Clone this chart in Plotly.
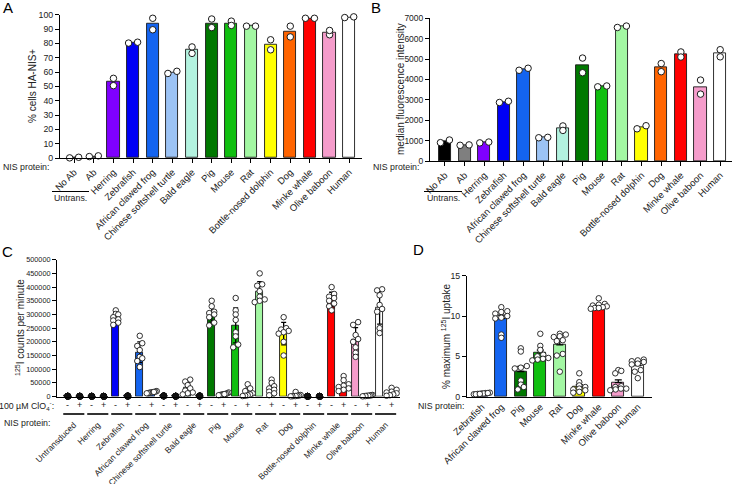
import numpy as np
import plotly.graph_objects as go

W, H = 735, 484
FONT = "Liberation Sans, Arial, Helvetica, sans-serif"
TXT = "#222222"


def px(x):
    return x / W


def py(y):
    return 1 - y / H


# ---------------- Panel A / B data ----------------
ab_labels = ["No Ab", "Ab", "Herring", "Zebrafish", "African clawed frog",
             "Chinese softshell turtle", "Bald eagle", "Pig", "Mouse", "Rat",
             "Bottle-nosed dolphin", "Dog", "Minke whale", "Olive baboon", "Human"]
ab_colors = ["#000000", "#7f7f7f", "#7f00ff", "#0000f5", "#1464f0", "#9cc3f5",
             "#b3f2df", "#007800", "#10bf10", "#a3f7a3", "#ffff00", "#ff6400",
             "#ff0000", "#f59ccb", "#ffffff"]
a_dots = [[0.1, 0.5], [1.0, 1.5], [55.6, 50.5], [80.2, 80.8], [97.5, 89.5],
          [59.0, 60.5], [77.5, 73.0], [97.0, 91.0], [95.5, 92.5], [92.0, 92.0],
          [82.5, 75.5], [92.0, 84.5], [97.5, 97.5], [86.0, 89.0], [98.0, 98.5]]
b_dots = [[900, 1030], [770, 790], [890, 930], [2870, 2930], [4450, 4550],
          [1140, 1160], [1720, 1500], [5050, 4330], [3640, 3680], [6550, 6620],
          [1580, 1730], [4780, 4380], [5350, 5100], [3970, 3280], [5460, 5110]]

# ---------------- Panel C data ----------------
c_labels = ["Untransduced", "Herring", "Zebrafish", "African clawed frog",
            "Chinese softshell turtle", "Bald eagle", "Pig", "Mouse", "Rat", "Dog",
            "Bottle-nosed dolphin", "Minke whale", "Olive baboon", "Human"]
c_colors = ["#000000", "#7f00ff", "#0000f5", "#1464f0", "#9cc3f5", "#b3f2df",
            "#007800", "#10bf10", "#a3f7a3", "#ffff00", "#ff6400", "#ff0000",
            "#f59ccb", "#ffffff"]
c_minus = [
    [1500, 1800, 1200, 1600, 1400, 1700, 1300, 1500],
    [1200, 1500, 1000, 1300, 1400, 1100, 1600, 1200],
    [315000, 302000, 300000, 290000, 282000, 278000, 270000, 262000],
    [222000, 195000, 185000, 170000, 145000, 140000, 130000, 108000],
    [2500, 3000, 2000, 2800, 2200, 1800, 2600, 2400],
    [62000, 55000, 42000, 30000, 22000, 15000, 12000, 8000],
    [350000, 330000, 310000, 305000, 300000, 290000, 270000, 260000],
    [360000, 315000, 300000, 280000, 235000, 220000, 190000, 180000],
    [450000, 410000, 405000, 385000, 365000, 355000, 350000, 345000],
    [290000, 250000, 245000, 240000, 235000, 230000, 200000, 150000],
    [1200, 1000, 1400, 1100, 1300, 900, 1000, 1200],
    [400000, 375000, 365000, 360000, 350000, 340000, 330000, 315000],
    [272000, 262000, 225000, 210000, 200000, 180000, 160000, 145000],
    [392000, 388000, 370000, 335000, 320000, 310000, 250000, 232000],
]
c_plus = [
    [1400, 1600, 1200, 1500, 1300, 1700, 1100, 1500],
    [1100, 1300, 900, 1200, 1000, 1400, 1200, 1000],
    [1500, 2500, 2000, 1000, 3000, 2000, 1500, 2500],
    [20000, 18000, 16000, 15000, 14000, 13000, 12000, 17000],
    [1500, 2000, 1200, 1800, 1600, 1400, 1700, 1300],
    [2000, 3000, 1500, 2500, 1800, 2200, 1600, 2400],
    [15000, 12000, 10000, 8000, 7000, 6000, 5000, 9000],
    [45000, 30000, 20000, 12000, 8000, 5000, 3000, 2000],
    [62000, 50000, 38000, 30000, 25000, 18000, 12000, 5000],
    [17000, 6000, 4000, 3000, 2000, 2000, 1500, 1000],
    [1000, 1200, 900, 1100, 1300, 1000, 800, 1200],
    [75000, 60000, 45000, 40000, 35000, 30000, 25000, 20000],
    [6000, 5000, 4000, 3000, 3000, 2000, 2000, 1000],
    [32000, 25000, 18000, 15000, 12000, 8000, 5000, 3000],
]
c_treat = ["-", "+"]

# ---------------- Panel D data ----------------
d_labels = ["Zebrafish", "African clawed frog", "Pig", "Mouse", "Rat", "Dog",
            "Minke whale", "Olive baboon", "Human"]
d_colors = ["#0a0ad0", "#1464f0", "#007800", "#10bf10", "#a3f7a3", "#ffff00",
            "#ff0000", "#f59ccb", "#ffffff"]
d_dots = [
    [0.5, 0.45, 0.4, 0.35, 0.3, 0.4, 0.45, 0.3, 0.35],
    [11.1, 10.6, 10.5, 10.3, 10.0, 9.8, 9.7, 7.7, 7.3],
    [6.0, 5.6, 3.8, 3.6, 3.5, 2.0, 1.5, 1.2, 0.9],
    [7.8, 6.3, 5.8, 5.2, 5.0, 4.8, 4.7, 4.6, 4.5],
    [7.8, 7.7, 7.5, 7.4, 7.0, 6.9, 5.3, 5.1, 3.1],
    [2.9, 1.8, 1.4, 1.2, 1.0, 0.9, 0.8, 0.6, 0.5],
    [12.2, 11.5, 11.4, 11.3, 11.2, 11.1, 11.0, 11.0, 10.9],
    [3.3, 3.2, 2.9, 1.3, 1.2, 1.0, 1.0, 0.9, 0.8],
    [4.6, 4.5, 4.4, 4.3, 4.1, 4.0, 3.3, 3.1, 2.3],
]

# ---------------- geometry ----------------
A_X = (60, 362); A_Y = (158, 14.7); A_XR = (-0.72, 14.65); A_YR = (0, 100)
B_X = (430, 732); B_Y = (161, 18.3); B_XR = (-0.76, 14.6); B_YR = (0, 7000)
C_X = (57, 400); C_Y = (396.6, 259.7); C_XR = (-0.9, 27.7); C_YR = (0, 500000)
D_X = (467, 652); D_Y = (396.7, 275.7); D_XR = (-0.76, 8.73); D_YR = (0, 15)


def scale(xd, yd, xr, yr):
    return (xd[1] - xd[0]) / (xr[1] - xr[0]), (yd[0] - yd[1]) / (yr[1] - yr[0])


def swarm(vals, xpx, ypx, thresh, spacing, maxhalf):
    vals = np.asarray(vals, float)
    order = np.argsort(vals, kind="stable")
    rows = []
    for i in order:
        if rows and (vals[i] - vals[rows[-1][0]]) * ypx < thresh:
            rows[-1].append(i)
        else:
            rows.append([i])
    off = np.zeros(len(vals))
    for r in rows:
        n = len(r)
        if n > 1:
            sp = min(spacing, 2 * maxhalf / (n - 1))
            for k, i in enumerate(r):
                off[i] = (k - (n - 1) / 2) * sp / xpx
    return off


fig = go.Figure()

BAR_LINE = dict(color="#1a1a1a", width=0.9)


def simple_panel(dots, colors, xa, ya, xd, yd, xr, yr):
    means = [float(np.mean(d)) for d in dots]
    xs = list(range(len(dots)))
    fig.add_trace(go.Bar(x=xs, y=means, width=0.62, marker=dict(color=colors, line=BAR_LINE),
                         xaxis=xa, yaxis=ya, showlegend=False))
    xpx, ypx = scale(xd, yd, xr, yr)
    dx, dy = [], []
    for i, d in enumerate(dots):
        off = swarm(d, xpx, ypx, 3.5, 9, 5)
        dx += list(i + off)
        dy += list(d)
    fig.add_trace(go.Scatter(x=dx, y=dy, mode="markers", xaxis=xa, yaxis=ya, showlegend=False,
                             cliponaxis=False,
                             marker=dict(size=6.5, color="white", line=dict(color="#1a1a1a", width=1))))


simple_panel(a_dots, ab_colors, "x", "y", A_X, A_Y, A_XR, A_YR)
simple_panel(b_dots, ab_colors, "x2", "y2", B_X, B_Y, B_XR, B_YR)

# ---- Panel C ----
c_x, c_mean, c_sd, c_col = [], [], [], []
for k in range(len(c_labels)):
    for j, grp in enumerate([c_minus[k], c_plus[k]]):
        c_x.append(2 * k + j)
        c_mean.append(float(np.mean(grp)))
        c_sd.append(float(np.std(grp, ddof=1)))
        c_col.append(c_colors[k])
fig.add_trace(go.Bar(x=c_x, y=c_mean, width=0.6, marker=dict(color=c_col, line=BAR_LINE),
                     error_y=dict(type="data", array=c_sd, color="black", thickness=1.3, width=2.5),
                     xaxis="x3", yaxis="y3", showlegend=False))
cxpx, cypx = scale(C_X, C_Y, C_XR, C_YR)
ox, oy, fx, fy = [], [], [], []
for k in range(len(c_labels)):
    for j, grp in enumerate([c_minus[k], c_plus[k]]):
        pos = 2 * k + j
        if max(grp) * cypx < 1.5:
            fx += [pos] * len(grp)
            fy += list(grp)
        else:
            off = swarm(grp, cxpx, cypx, 3.0, 5, 5)
            ox += list(pos + off)
            oy += list(grp)
fig.add_trace(go.Scatter(x=ox, y=oy, mode="markers", xaxis="x3", yaxis="y3", showlegend=False,
                         cliponaxis=False,
                         marker=dict(size=5.5, color="white", line=dict(color="#1a1a1a", width=0.9))))
fig.add_trace(go.Scatter(x=fx, y=fy, mode="markers", xaxis="x3", yaxis="y3", showlegend=False,
                         cliponaxis=False,
                         marker=dict(size=6, color="#111111", line=dict(color="#111111", width=1))))

# ---- Panel D ----
d_mean = [float(np.mean(d)) for d in d_dots]
d_sem = [float(np.std(d, ddof=1) / np.sqrt(len(d))) for d in d_dots]
fig.add_trace(go.Bar(x=list(range(len(d_dots))), y=d_mean, width=0.63,
                     marker=dict(color=d_colors, line=BAR_LINE),
                     error_y=dict(type="data", array=d_sem, arrayminus=[0] * len(d_sem),
                                  color="black", thickness=1.3, width=3.5),
                     xaxis="x4", yaxis="y4", showlegend=False))
dxpx, dypx = scale(D_X, D_Y, D_XR, D_YR)
ddx, ddy = [], []
for i, d in enumerate(d_dots):
    off = swarm(d, dxpx, dypx, 3.0, 6, 8)
    ddx += list(i + off)
    ddy += list(d)
fig.add_trace(go.Scatter(x=ddx, y=ddy, mode="markers", xaxis="x4", yaxis="y4", showlegend=False,
                         cliponaxis=False,
                         marker=dict(size=5.5, color="white", line=dict(color="#1a1a1a", width=0.9))))

# ---------------- axes ----------------
def yax(yd, yr, dtick, xanchor, fs):
    return dict(domain=[py(yd[0]), py(yd[1])], range=list(yr), dtick=dtick, anchor=xanchor,
                showline=True, linecolor="black", linewidth=1, ticks="outside", ticklen=4,
                tickwidth=1, tickcolor="black", showgrid=False, zeroline=False, automargin=False,
                tickfont=dict(size=fs, color=TXT, family=FONT), tickformat="d", fixedrange=True)


def xax(xd, xr, yanchor, vals, text, fs, ticks=True, standoff=None):
    d = dict(domain=[px(xd[0]), px(xd[1])], range=list(xr), anchor=yanchor,
             showline=True, linecolor="black", linewidth=1, automargin=False,
             ticks="outside" if ticks else "", ticklen=4, tickwidth=1, tickcolor="black",
             tickmode="array", tickvals=vals, ticktext=text, tickangle=-45,
             showgrid=False, zeroline=False, fixedrange=True,
             tickfont=dict(size=fs, color=TXT, family=FONT))
    if standoff is not None:
        d["ticklabelstandoff"] = standoff
    return d


fig.update_layout(
    template="none",
    width=W, height=H, autosize=False,
    margin=dict(l=0, r=0, t=0, b=0, autoexpand=False),
    paper_bgcolor="white", plot_bgcolor="rgba(0,0,0,0)",
    font=dict(family=FONT, color=TXT),
    bargap=0,
    xaxis=xax(A_X, A_XR, "y", list(range(15)), ab_labels, 9.5),
    yaxis=yax(A_Y, A_YR, 10, "x", 8.8),
    xaxis2=xax(B_X, B_XR, "y2", list(range(15)), ab_labels, 9.5),
    yaxis2=yax(B_Y, B_YR, 1000, "x2", 8.5),
    xaxis3=xax(C_X, C_XR, "y3", [2 * k + 0.5 for k in range(len(c_labels))], c_labels, 8.5,
               ticks=False, standoff=19),
    yaxis3=yax(C_Y, C_YR, 50000, "x3", 7.3),
    xaxis4=xax(D_X, D_XR, "y4", list(range(len(d_labels))), d_labels, 9.5, ticks=False),
    yaxis4=yax(D_Y, D_YR, 5, "x4", 8.8),
)

ann = []


def text(x, y, s, size=8.5, xanchor="center", angle=0):
    ann.append(dict(x=px(x), y=py(y), xref="paper", yref="paper", text=s, showarrow=False,
                    xanchor=xanchor, yanchor="middle", textangle=angle,
                    font=dict(size=size, color=TXT if size < 12 else "black", family=FONT)))


# panel letters
text(8, 8, "A", 15)
text(376, 8, "B", 15)
text(8, 251, "C", 15)
text(418, 249, "D", 15)
# axis titles
text(33, 86, "% cells HA-NIS+", 10, angle=-90)
text(400, 89, "median fluorescence intensity", 10, angle=-90)
text(20, 328, "<sup>125</sup>I counts per minute", 10, angle=-90)
text(446, 336, "% maximum <sup>125</sup>I uptake", 10, angle=-90)
# NIS protein labels
text(51, 167, "NIS protein:", 8.8, xanchor="right")
text(421, 167, "NIS protein:", 8.8, xanchor="right")
text(52, 423, "NIS protein:", 8.8, xanchor="right")
text(466, 406, "NIS protein:", 8.8, xanchor="right")
text(56, 405, "100 µM ClO<sub>4</sub><sup>-</sup>:", 8.8, xanchor="right")
# Untrans.
text(70, 198, "Untrans.", 8.8)
text(443, 198, "Untrans.", 8.8)

shapes = [
    dict(type="line", xref="paper", yref="paper", x0=px(52), x1=px(89), y0=py(191.5), y1=py(191.5),
         line=dict(color="black", width=1)),
    dict(type="line", xref="paper", yref="paper", x0=px(424), x1=px(462), y0=py(191.5), y1=py(191.5),
         line=dict(color="black", width=1)),
]

# C treatment row and group underlines
for k in range(len(c_labels)):
    for j in range(2):
        ann.append(dict(x=2 * k + j, xref="x3", y=py(405), yref="paper", text=c_treat[j],
                        showarrow=False, xanchor="center", yanchor="middle",
                        font=dict(size=9, color=TXT, family=FONT)))
    shapes.append(dict(type="line", xref="x3", yref="paper", x0=2 * k + 0.5 - 0.88,
                       x1=2 * k + 0.5 + 0.88, y0=py(414), y1=py(414),
                       line=dict(color="#333333", width=2)))

fig.update_layout(annotations=ann, shapes=shapes)

fig.write_html("out.html", config={"displayModeBar": False},
               post_script="document.body.style.margin='0';document.body.style.overflow='hidden';")
